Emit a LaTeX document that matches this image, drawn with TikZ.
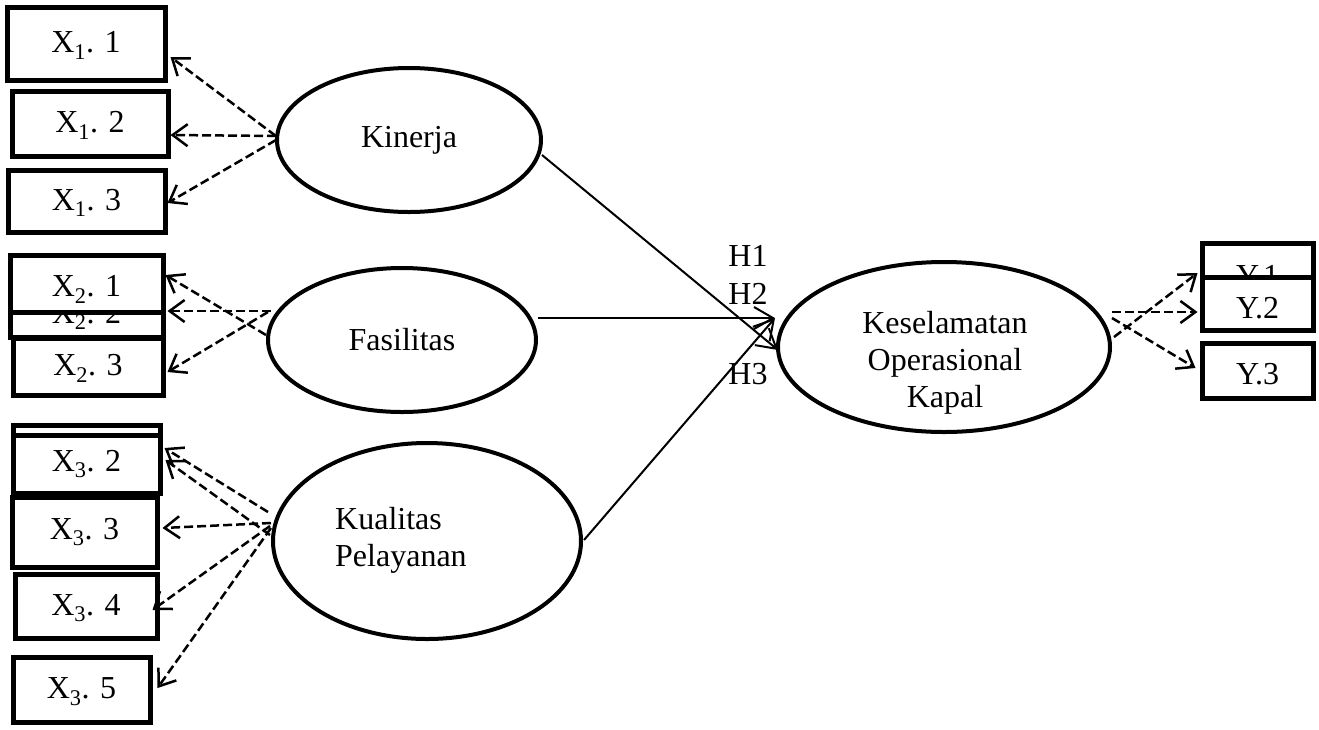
\documentclass[tikz,border=0pt]{standalone}
\usepackage{fontspec}
\setmainfont{Liberation Serif}
\usetikzlibrary{shapes.geometric,arrows.meta,calc}
\newcommand\lowtxt[2]{\raisebox{-#1}[\height][\depth]{#2}}
\begin{document}
\begin{tikzpicture}[x=1pt,y=-1pt,
  every node/.style={font=\fontsize{32}{37}\selectfont},
  box/.style={draw,line width=5pt,fill=white,inner sep=0pt},
  lat/.style={draw,ellipse,line width=4pt,fill=white,inner sep=0pt},
  txt/.style={inner sep=0pt,align=center},
  dasharrow/.style={line width=2.5pt,dash pattern=on 9pt off 4pt,-{Straight Barb[length=15pt,width=22pt]}},
  patharrow/.style={line width=2pt,-{Straight Barb[length=19pt,width=22pt]}}]
\useasboundingbox (0,0) rectangle (1319,729);
% indicator boxes
\node[box,minimum width=158pt,minimum height=73pt] (x11) at (86,43.5) {\lowtxt{2pt}{X\textsubscript{1}. 1}};
\node[box,minimum width=156pt,minimum height=65pt] (x12) at (90,123.5) {\lowtxt{2pt}{X\textsubscript{1}. 2}};
\node[box,minimum width=157pt,minimum height=62pt] (x13) at (86.5,201) {\lowtxt{2pt}{X\textsubscript{1}. 3}};
\node[box,minimum width=153pt,minimum height=50pt] (x22) at (86.5,312) {\lowtxt{4pt}{X\textsubscript{2}. 2}};
\node[box,minimum width=153pt,minimum height=57pt] (x21) at (86.5,283.5) {\lowtxt{6pt}{X\textsubscript{2}. 1}};
\node[box,minimum width=150pt,minimum height=57pt] (x23) at (88,366.5) {\lowtxt{2pt}{X\textsubscript{2}. 3}};
\node[box,minimum width=147pt,minimum height=55pt] (x31) at (86.5,452.5) {};
\node[box,minimum width=147pt,minimum height=58pt] (x32) at (86.5,464) {X\textsubscript{3}. 2};
\node[box,minimum width=145pt,minimum height=70pt] (x33) at (84.5,532) {X\textsubscript{3}. 3};
\node[box,minimum width=142pt,minimum height=64pt] (x34) at (86,606) {\lowtxt{2pt}{X\textsubscript{3}. 4}};
\node[box,minimum width=137pt,minimum height=65pt] (x35) at (81.5,689.5) {\lowtxt{2pt}{X\textsubscript{3}. 5}};
\node[box,minimum width=111pt,minimum height=62pt] (y1) at (1257.5,274) {\lowtxt{2pt}{Y.1}};
\node[box,minimum width=111pt,minimum height=53pt] (y2) at (1257.5,303.5) {\lowtxt{5pt}{Y.2}};
\node[box,minimum width=111pt,minimum height=55pt] (y3) at (1257.5,370.5) {\lowtxt{4pt}{Y.3}};
% latent variables
\node[lat,minimum width=264pt,minimum height=144pt] (kin) at (409,140) {Kinerja};
\node[lat,minimum width=268pt,minimum height=144pt] (fas) at (402,340) {Fasilitas};
\node[lat,minimum width=308pt,minimum height=196pt] (kua) at (427,541) {};
\node[txt,align=left,anchor=west] (kuat) at (335,540) {Kualitas\\Pelayanan};
\node[lat,minimum width=332pt,minimum height=170pt] (kes) at (944,347) {};
\node[txt] (kest) at (945,363) {Keselamatan\\Operasional\\Kapal};
% hypothesis labels
\node[txt] (h1) at (748,256) {H1};
\node[txt] (h2) at (748,294) {H2};
\node[txt] (h3) at (748,374) {H3};
% Kinerja indicators
\draw[dasharrow] ($(kin.west)+(1,-4)$) -- ($(x11.east)+(3,13.5)$);
\draw[dasharrow] ($(kin.west)+(1,-4)$) -- ($(x12.east)+(0,11.5)$);
\draw[dasharrow] ($(kin.west)+(1,0)$) -- ($(x13.east)+(0,2)$);
% Fasilitas indicators
\draw[dasharrow] ($(fas.west)+(0,-5)$) -- ($(x21.east)+(0,-8.5)$);
\draw[dasharrow] ($(fas.west)+(5,-29)$) -- ($(x22.east)+(2,-1)$);
\draw[dasharrow] ($(fas.west)+(2,-28)$) -- ($(x23.east)+(2,5.5)$);
% Kualitas Pelayanan indicators
\draw[dasharrow] ($(kua.west)+(-3,-29)$) -- ($(x31.east)+(2,-4.5)$);
\draw[dasharrow] ($(kua.west)+(-1,-6)$) -- ($(x32.east)+(3,-4)$);
\draw[dasharrow] ($(kua.west)+(0,-18)$) -- ($(x33.east)+(3,-4)$);
\draw[dasharrow] ($(kua.west)+(-1,-15)$) -- ($(x34.east)+(-7,4)$);
\draw[dasharrow] ($(kua.west)+(0,-13)$) -- ($(x35.east)+(5,-1.5)$);
% Keselamatan indicators
\draw[dasharrow] ($(kes.east)+(2,-10)$) -- ($(y1.west)+(-2,-1)$);
\draw[dasharrow] ($(kes.east)+(0,-35)$) -- ($(y2.west)+(-2,8.5)$);
\draw[dasharrow] ($(kes.east)+(0,-29)$) -- ($(y3.west)+(-4,-2.5)$);
% structural paths
\draw[patharrow] ($(kin.east)+(-1,15)$) -- ($(kes.west)+(2,3)$);
\draw[patharrow] ($(fas.east)+(0,-22)$) -- ($(kes.west)+(-1,-29)$);
\draw[patharrow] ($(kua.east)+(1,-1)$) -- ($(kes.west)+(-1,-29)$);
\end{tikzpicture}
\end{document}
